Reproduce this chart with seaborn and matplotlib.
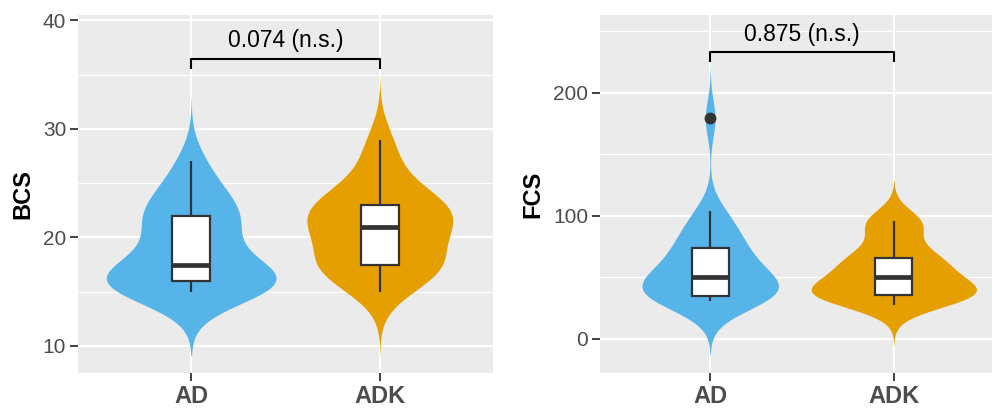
import numpy as np
import pandas as pd
import matplotlib
matplotlib.use("Agg")
import matplotlib.pyplot as plt
from matplotlib.ticker import FixedLocator
import seaborn as sns

# ---- data -----------------------------------------------------------------
groups = ["AD", "ADK"]

bcs_ad = [15, 15, 15, 16, 16, 16, 16, 16, 16, 17, 17.5, 18.5, 19.5, 20.5,
          21.5, 22, 22, 23, 24, 25, 27]
bcs_adk = [15, 16, 17, 17, 17.5, 17.5, 18, 19, 20, 20.5, 21, 21.5, 22, 22,
           22.5, 23, 23.5, 24, 25, 27, 29]

fcs_ad = [31, 33, 34, 35, 35, 35, 35, 38, 41, 44, 46, 48, 50, 53, 57, 62,
          66, 70, 73.5, 78, 84, 90, 97, 104, 179]
fcs_adk = [28, 32, 34, 35, 36, 36, 36, 38, 39, 40, 42, 44, 50, 53, 56, 59,
           62, 64, 66, 70, 76, 92, 94, 95, 96]

p_values = ["0.074", "0.875"]

palette = {"AD": "#56B4E9", "ADK": "#E69F00"}

# ---- style ------------------------------------------------------------------
sns.set_theme(style="darkgrid")
plt.rcParams["font.family"] = ["Liberation Sans", "DejaVu Sans"]

BG = "#EBEBEB"
DARK = "#333333"
TICK_TXT = "#4D4D4D"

fig = plt.figure(figsize=(9.92, 4.08), dpi=100)
ax_l = fig.add_axes([78 / 992, 35 / 408, 415 / 992, 358 / 408])
ax_r = fig.add_axes([600 / 992, 35 / 408, 404 / 992, 358 / 408])


def long_frame(name, a, b):
    return pd.DataFrame({
        "group": ["AD"] * len(a) + ["ADK"] * len(b),
        name: a + b,
    })


def bw_nrd0(kde):
    """Silverman's rule as in R's bw.nrd0, returned as a factor of the sd."""
    x = np.asarray(kde.dataset).ravel()
    sd = x.std(ddof=1)
    q75, q25 = np.percentile(x, [75, 25])
    h = 0.9 * min(sd, (q75 - q25) / 1.34) * x.size ** -0.2
    return h / sd


def panel(ax, df, name, ylim, major, minor, bracket_y, tip, label_gap, pval):
    ax.set_facecolor(BG)
    sns.violinplot(
        data=df, x="group", y=name, hue="group", order=groups,
        hue_order=groups, palette=palette, inner=None, cut=3,
        bw_method=bw_nrd0, bw_adjust=1.08, width=0.9,
        density_norm="area", common_norm=True, linewidth=0, saturation=1,
        legend=False, ax=ax, zorder=2,
    )
    sns.boxplot(
        data=df, x="group", y=name, order=groups, width=0.2,
        color="white", linecolor=DARK, linewidth=1.6, saturation=1,
        showcaps=False,
        medianprops={"linewidth": 3.4, "color": DARK},
        flierprops={"marker": "o", "markerfacecolor": DARK,
                    "markeredgecolor": DARK, "markersize": 7.5},
        ax=ax, zorder=3,
    )
    ax.set_xlim(-0.6, 1.6)
    ax.set_ylim(*ylim)
    ax.yaxis.set_major_locator(FixedLocator(major))
    ax.yaxis.set_minor_locator(FixedLocator(minor))
    ax.grid(False)
    ax.set_axisbelow(True)
    for y in major:
        ax.axhline(y, color="white", lw=1.5, zorder=0)
    for y in minor:
        ax.axhline(y, color="white", lw=0.8, zorder=0)
    for x in range(len(groups)):
        ax.axvline(x, color="white", lw=1.5, zorder=0)
    for s in ax.spines.values():
        s.set_visible(False)
    ax.tick_params(axis="both", which="major", length=5.5, width=1.3,
                   color=DARK, labelsize=15, labelcolor=TICK_TXT, pad=3,
                   left=True, bottom=True)
    ax.tick_params(axis="y", which="minor", length=0)
    for t in ax.get_xticklabels():
        t.set_fontweight("bold")
        t.set_fontsize(17)
    ax.set_xlabel("")
    ax.set_ylabel(name, fontsize=17, fontweight="bold", color="black",
                  labelpad=6)

    # significance bracket
    ax.plot([0, 0, 1, 1], [bracket_y - tip, bracket_y, bracket_y,
                           bracket_y - tip],
            color="black", lw=1.5, zorder=4, solid_capstyle="butt")
    ax.text(0.5, bracket_y + label_gap, f"{pval} (n.s.)", ha="center",
            va="center", fontsize=16.5, color="black")


df_bcs = long_frame("BCS", bcs_ad, bcs_adk)
df_fcs = long_frame("FCS", fcs_ad, fcs_adk)

panel(ax_l, df_bcs, "BCS", (7.5, 40.5), [10, 20, 30, 40], [15, 25, 35],
      36.4, 0.9, 1.75, p_values[0])
panel(ax_r, df_fcs, "FCS", (-27.6, 263), [0, 100, 200], [50, 150, 250],
      233, 8.2, 14.5, p_values[1])

fig.savefig("out.png", dpi=100)
